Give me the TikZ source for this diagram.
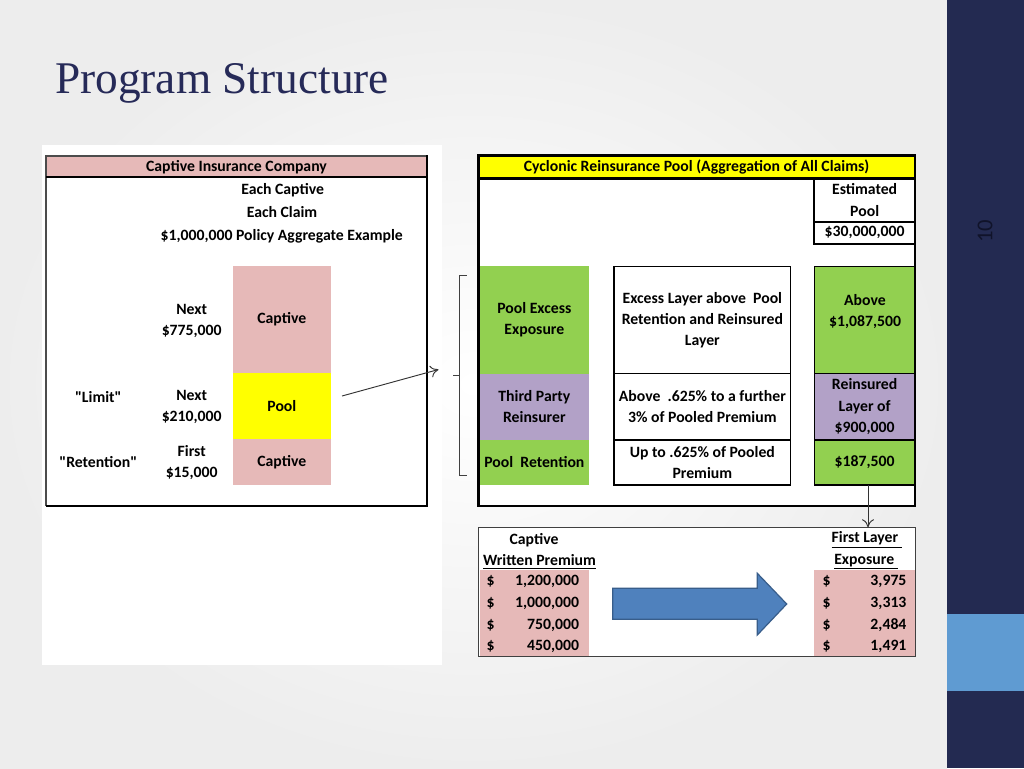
\documentclass[tikz,border=0pt]{standalone}
\usepackage{fontspec}
\setmainfont{Carlito}[Ligatures=TeXOff]
\newfontfamily\titlefont{Liberation Serif}
\usetikzlibrary{arrows.meta}
\definecolor{navy}{HTML}{232A51}
\definecolor{lblue}{HTML}{5F9BD2}
\definecolor{cpink}{HTML}{E6B9B8}
\definecolor{cyellow}{HTML}{FFFF00}
\definecolor{cgreen}{HTML}{92D050}
\definecolor{cpurple}{HTML}{B2A1C7}
\definecolor{ablue}{HTML}{4F81BD}
\definecolor{ablueline}{HTML}{385D8A}
\definecolor{titlecol}{HTML}{262A58}
\definecolor{pgnum}{HTML}{10132A}
\begin{document}
\begin{tikzpicture}[x=0.75pt,y=-0.75pt,
  txt/.style={font=\fontsize{11.8}{16}\selectfont\bfseries, align=center, inner sep=0pt, text=black},
  box/.style 2 args={txt, anchor=north west, outer sep=0pt, minimum width=#1*0.75pt, minimum height=#2*0.75pt},
  thk/.style={line width=1.9pt, draw=black},
  thn/.style={line width=0.9pt, draw=black},
  conn/.style={line width=0.7pt, draw=black!80, -{To[length=6pt,width=9pt]}},
]
\useasboundingbox (0,0) rectangle (1024,768);
% background
\shade[inner color=white, outer color=gray!14] (0,0) rectangle (947,768);
\fill[navy] (947,0) rectangle (1024,768);
\fill[lblue] (947,614) rectangle (1024,691);
\node[rotate=90, inner sep=0pt, font=\fontsize{17}{17}\selectfont, text=pgnum] (pg) at (985,231) {10};

% title
\node[anchor=base west, inner sep=0pt, font=\titlefont\fontsize{34}{34}\selectfont, text=titlecol] (title) at (55,93.3) {Program Structure};

% ---------------- left table
\fill[white] (42,145) rectangle (442,665);
\node[box={381}{22}, fill=cpink] (lhead) at (46,156) {Captive Insurance Company};
\draw[thn, draw=black!70] (427,156) -- (46,156) -- (46,506);
\draw[thk] (46,177) -- (427,177);
\draw[thk] (46,506) -- (427,506) -- (427,155);

\node[txt] (ec) at (282.7,190.7) {Each Captive};
\node[txt] (ecl) at (282,211.7) {Each Claim};
\node[txt] (agg) at (281.7,236) {\$1,000,000 Policy Aggregate Example};

\node[box={98.3}{107}, fill=cpink] (cap1) at (232.7,265.7) {Captive};
\node[box={98.3}{66.6}, fill=cyellow] (pool) at (232.7,372.7) {Pool};
\node[box={98.3}{45.7}, fill=cpink] (cap2) at (232.7,439.3) {Captive};

\node[txt] (n1) at (191.7,320.8) {Next\\\$775,000};
\node[txt] (n2) at (191.7,407.2) {Next\\\$210,000};
\node[txt] (n3) at (191.7,462.8) {First\\\$15,000};
\node[txt] (lim) at (98.3,396.7) {"Limit"};
\node[txt] (ret) at (98.3,462.3) {"Retention"};

% ---------------- right table
\fill[white] (478,155) rectangle (916,507);
\node[box={436}{23}, fill=cyellow] (rhead) at (478.5,155.5) {Cyclonic Reinsurance Pool (Aggregation of All Claims)};
\draw[thk] (478.5,155.5) rectangle (915,506);
\draw[thk] (478.5,178.3) -- (915,178.3);

\node[box={100.7}{43.4}] (est) at (814.3,178.3) {Estimated\\Pool};
\node[box={100.7}{22.3}] (tot) at (814.3,221.7) {\$30,000,000};
\draw[line width=1.3pt] (814.3,178.3) -- (814.3,244) -- (915,244);
\draw[line width=1.3pt] (814.3,221.7) -- (915,221.7);

% left column
\node[box={108.7}{108}, fill=cgreen] (pe) at (480,265.7) {Pool Excess\\Exposure};
\node[box={108.7}{66.3}, fill=cpurple] (tp) at (480,373.7) {Third Party\\Reinsurer};
\node[box={108.7}{45}, fill=cgreen] (pr) at (480,440) {Pool\ \ Retention};
% middle column
\node[box={176.7}{107}, thn] (m1) at (614,266.7) {Excess Layer above\ \ Pool\\Retention and Reinsured\\Layer};
\node[box={176.7}{66.3}, thn] (m2) at (614,373.7) {Above\ \ .625\% to a further\\3\% of Pooled Premium};
\node[box={176.7}{45}, thn] (m3) at (614,440) {Up to .625\% of Pooled\\Premium};
% right column
\node[box={100.7}{107}, thn, fill=cgreen] (r1) at (814.3,266.7) {};
\node[txt] (r1t) at (865,311.3) {Above\\\$1,087,500};
\node[box={100.7}{66.3}, thn, fill=cpurple] (r2) at (814.3,373.7) {Reinsured\\Layer of\\\$900,000};
\node[box={100.7}{45}, thn, fill=cgreen] (r3) at (814.3,440) {\$187,500};

% bracket
\draw[line width=0.7pt, draw=black!75] (466.7,275) -- (459.3,275) -- (459.3,475) -- (466.7,475);
\draw[line width=0.7pt, draw=black!75] (459.3,375) -- (453.3,375);

% arrow from pool
\coordinate (astart) at (342,396);
\coordinate (aend) at (438.5,369.5);
\draw[conn] (astart) -- (aend);

% ---------------- bottom table
\node[box={437.4}{129.4}, draw=black!75, line width=0.9pt, fill=white] (btab) at (478.3,527.3) {};
\node[box={109}{86.7}, fill=cpink] (pl) at (480,570) {};
\node[box={100.7}{86.2}, fill=cpink] (pright) at (814.3,570) {};
\draw[black!75, line width=0.9pt] (478.3,656.7) -- (915.7,656.7) -- (915.7,527.3);

\coordinate (vtop) at (868,485);
\draw[conn] (vtop) -- (btab.north -| vtop);

\node[txt] (cw1) at (534,540) {Captive};
\node[txt] (cw2) at (539.5,561.7) {\underline{Written Premium}};
\node[txt] (fl1) at (866.7,540) {\underline{First Layer\ }};
\node[txt] (fl2) at (866,561.7) {\underline{Exposure\ }};

\node[txt] (ld1) at (490.7,581.7) {\$};
\node[txt] (ld2) at (490.7,603.3) {\$};
\node[txt] (ld3) at (490.7,625) {\$};
\node[txt] (ld4) at (490.7,646.7) {\$};
\node[txt, anchor=east] (lv1) at (579.3,581.7) {1,200,000};
\node[txt, anchor=east] (lv2) at (579.3,603.3) {1,000,000};
\node[txt, anchor=east] (lv3) at (579.3,625) {750,000};
\node[txt, anchor=east] (lv4) at (579.3,646.7) {450,000};
\node[txt] (rd1) at (826.7,581.7) {\$};
\node[txt] (rd2) at (826.7,603.3) {\$};
\node[txt] (rd3) at (826.7,625) {\$};
\node[txt] (rd4) at (826.7,646.7) {\$};
\node[txt, anchor=east] (rv1) at (906.7,581.7) {3,975};
\node[txt, anchor=east] (rv2) at (906.7,603.3) {3,313};
\node[txt, anchor=east] (rv3) at (906.7,625) {2,484};
\node[txt, anchor=east] (rv4) at (906.7,646.7) {1,491};

% block arrow
\draw[fill=ablue, draw=ablueline, line width=0.9pt] (612.7,588.3) -- (757.3,588.3) -- (757.3,573.3) -- (786.7,604) -- (757.3,635) -- (757.3,619.3) -- (612.7,619.3) -- cycle;
\end{tikzpicture}
\end{document}
